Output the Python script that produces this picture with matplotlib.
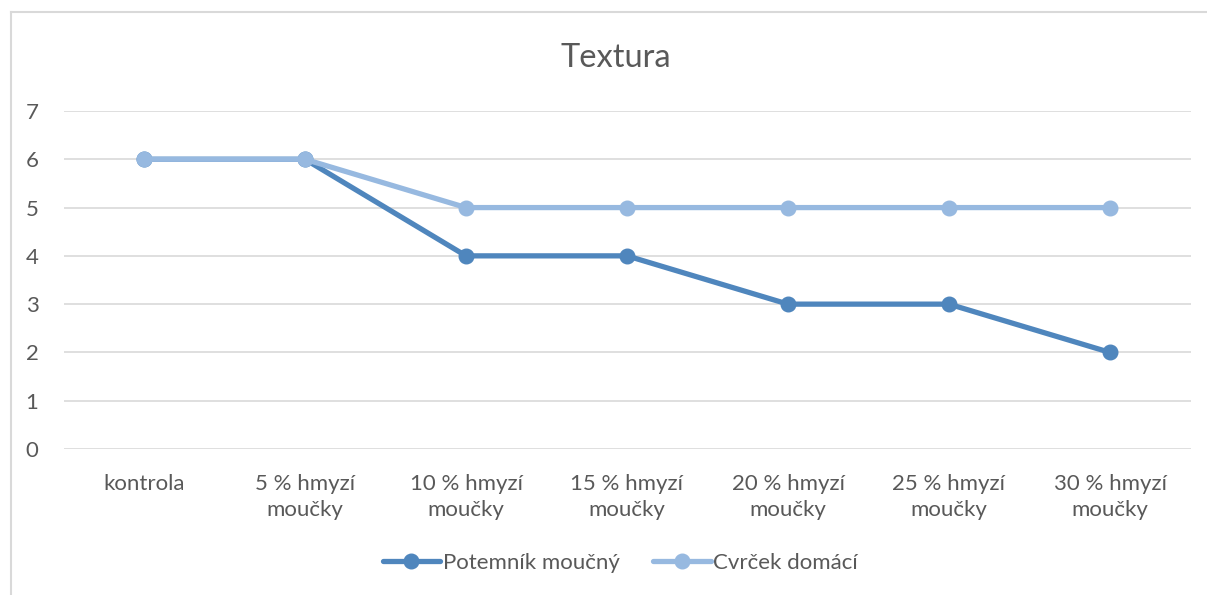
import matplotlib.pyplot as plt
from matplotlib.lines import Line2D

categories = ["kontrola", "5 % hmyzí\nmoučky", "10 % hmyzí\nmoučky", "15 % hmyzí\nmoučky",
              "20 % hmyzí\nmoučky", "25 % hmyzí\nmoučky", "30 % hmyzí\nmoučky"]
potemnik = [6, 6, 4, 4, 3, 3, 2]
cvrcek = [6, 6, 5, 5, 5, 5, 5]
series_names = ["Potemník moučný", "Cvrček domácí"]

plt.rcParams['font.family'] = ['Lato', 'DejaVu Sans']
text_color = '#595959'
dark_blue = '#4F86BD'
light_blue = '#97B9E0'

W, H = 1207, 595
fig = plt.figure(figsize=(W / 100, H / 100), dpi=100)
ax = fig.add_axes([63.5 / W, 146 / H, (1190.5 - 63.5) / W, (449 - 111) / H])

x = list(range(len(categories)))
ax.plot(x, potemnik, color=dark_blue, lw=3.8, marker='o', ms=10.5,
        solid_capstyle='round', label=series_names[0], zorder=3)
ax.plot(x, cvrcek, color=light_blue, lw=3.8, marker='o', ms=10.5,
        solid_capstyle='round', label=series_names[1], zorder=4)

ax.set_xlim(-0.5, len(categories) - 0.5)
ax.set_ylim(0, 7)
ax.set_yticks(range(0, 8))
ax.set_xticks(x)
ax.set_xticklabels(categories, fontsize=16, color=text_color, linespacing=1.35)
ax.tick_params(axis='y', labelsize=16, labelcolor=text_color, length=0, pad=18)
ax.tick_params(axis='x', length=0, pad=18)
ax.grid(axis='y', color='#D9D9D9', lw=1.2)
ax.set_axisbelow(True)
for s in ax.spines.values():
    s.set_visible(False)

fig.text(616 / W, 1 - 58 / H, "Textura", ha='center', va='center',
         fontsize=23.5, color=text_color)

fig.legend(loc='center', bbox_to_anchor=(620 / W, 1 - 563 / H), ncol=2,
           frameon=False, fontsize=16, labelcolor=text_color,
           handlelength=2.6, handletextpad=0.1, columnspacing=1.5)

# chart frame (only top and left visible in the crop)
fig.add_artist(Line2D([11 / W, 11 / W], [0, 1 - 12 / H], transform=fig.transFigure,
                      color='#D9D9D9', lw=1.5))
fig.add_artist(Line2D([11 / W, 1], [1 - 12 / H, 1 - 12 / H], transform=fig.transFigure,
                      color='#D9D9D9', lw=1.5))

fig.savefig('out.png', dpi=100)
